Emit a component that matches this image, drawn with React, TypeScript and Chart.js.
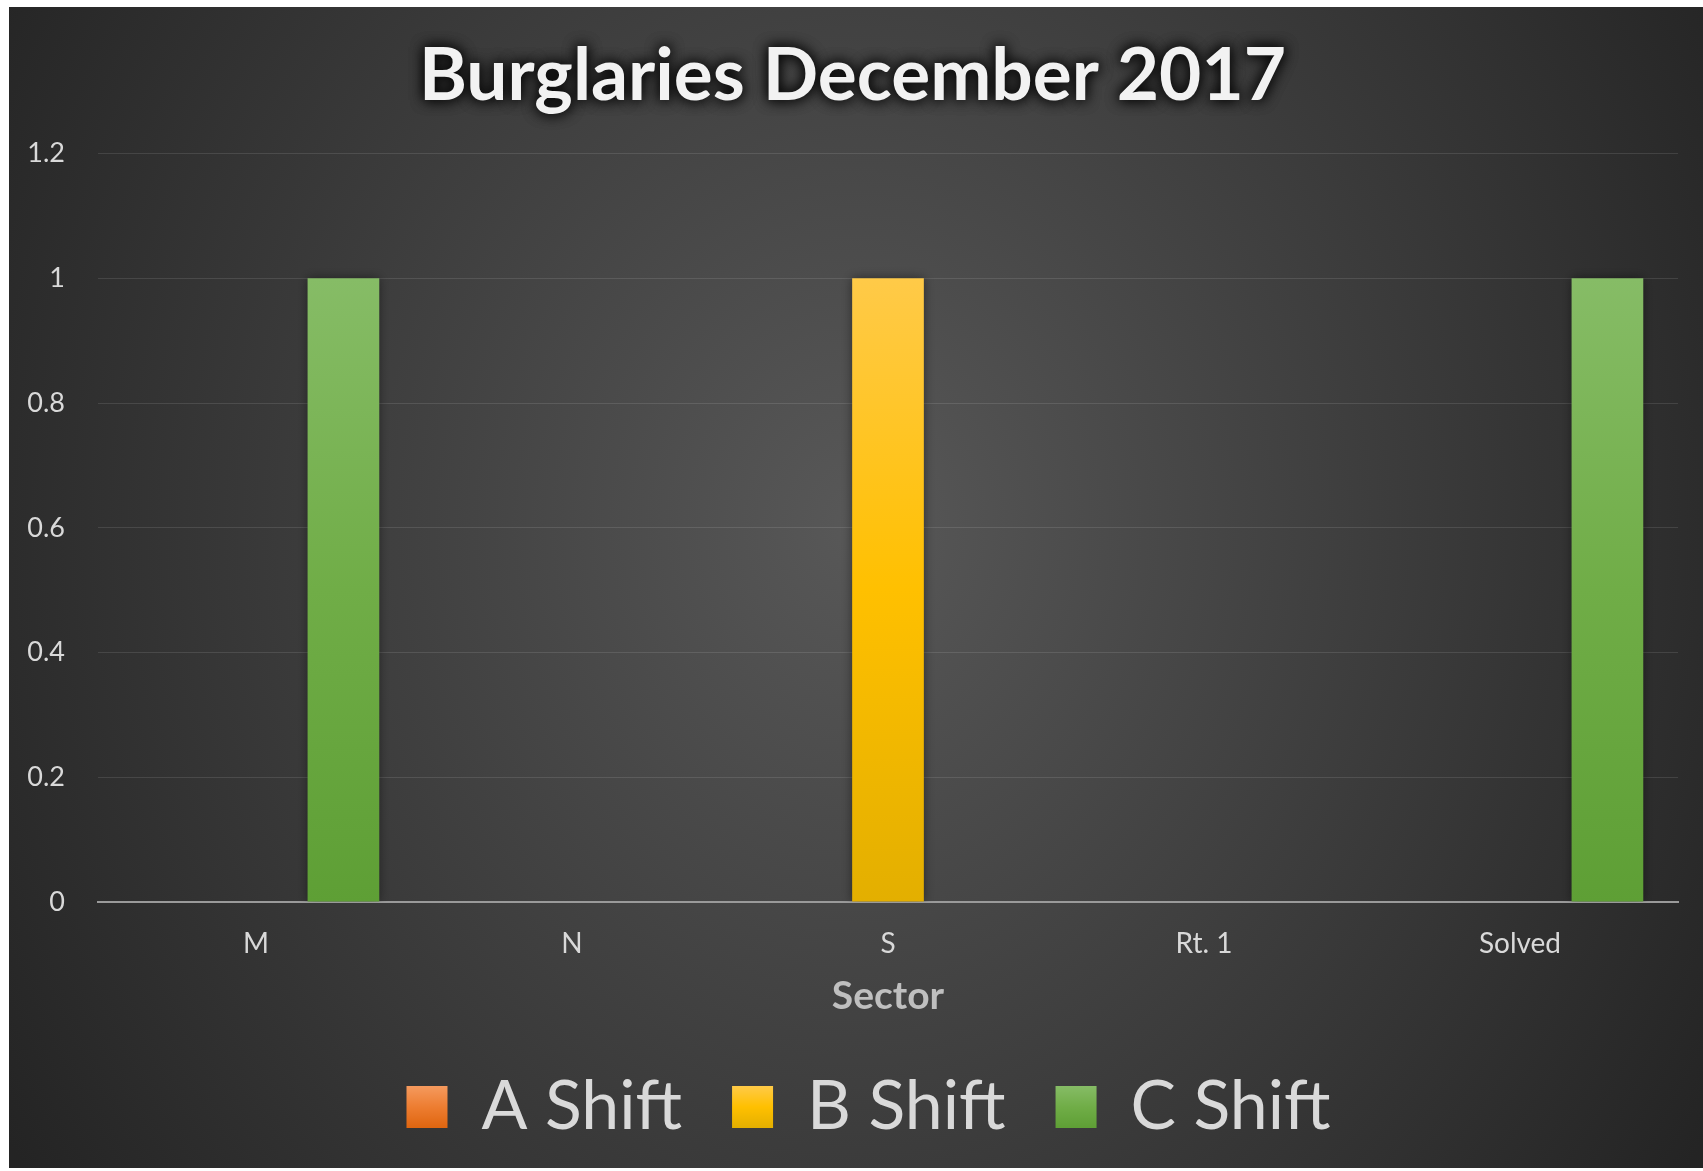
import { useEffect, useRef } from 'react';
import { Chart, registerables } from 'chart.js';

Chart.register(...registerables);

// ---- data ----
const categories = ['M', 'N', 'S', 'Rt. 1', 'Solved'];
const seriesNames = ['A Shift', 'B Shift', 'C Shift'];
const aShift = [0, 0, 0, 0, 0];
const bShift = [0, 0, 1, 0, 0];
const cShift = [1, 0, 0, 0, 1];
const yTickValues = [0, 0.2, 0.4, 0.6, 0.8, 1, 1.2];
const chartTitle = 'Burglaries December 2017';
const xAxisTitle = 'Sector';

// ---- styles ----
const W = 1694;
const H = 1161;
const FONT = 'Lato, "Open Sans", sans-serif';
const TITLE_FONT = { family: FONT, size: 73, weight: 'bold' as const, lineHeight: 1.2 };
const TITLE_PAD = { top: 26, bottom: 33 };
const LEGEND_FONT_SIZE = 68;
const LEGEND_PAD = 50;
const LEGEND_BOX_H = 42;
const LEGEND_SHIFT_X = 16;

const seriesStops = [
  ['#F59A5E', '#ED7D31', '#DF650F'],
  ['#FFCA48', '#FFC000', '#E3AF00'],
  ['#86BC66', '#70AD47', '#5E9F35'],
];

function barFill(stops: string[]) {
  return (c: any) => {
    const chart = c.chart;
    const area = chart.chartArea;
    if (!area || !chart.scales?.y) return stops[1];
    const ys = chart.scales.y;
    const v = typeof c.raw === 'number' && c.raw > 0 ? c.raw : 1;
    const top = ys.getPixelForValue(v);
    const bottom = ys.getPixelForValue(0);
    const g = chart.ctx.createLinearGradient(0, top, 0, bottom);
    g.addColorStop(0, stops[0]);
    g.addColorStop(0.5, stops[1]);
    g.addColorStop(1, stops[2]);
    return g;
  };
}

const backgroundPlugin = {
  id: 'bgAndTitleGlow',
  afterLayout(chart: any) {
    const lg = chart.legend;
    if (lg) {
      lg.left += LEGEND_SHIFT_X;
      lg.right += LEGEND_SHIFT_X;
    }
  },
  beforeDraw(chart: any) {
    const ctx = chart.ctx as CanvasRenderingContext2D;
    const { width, height } = chart;
    ctx.save();
    const cx = width * 0.5;
    const cy = height * 0.445;
    const sy = 1.164;
    ctx.translate(cx, cy);
    ctx.scale(1, sy);
    const g = ctx.createRadialGradient(0, 0, 0, 0, 0, 1000);
    g.addColorStop(0, '#585858');
    g.addColorStop(1, '#242424');
    ctx.fillStyle = g;
    ctx.fillRect(-cx, -cy / sy, width, height / sy);
    ctx.restore();

    // glow behind the title (title itself is drawn by Chart.js)
    const tb = chart.titleBlock;
    if (tb) {
      const x = (tb.left + tb.right) / 2;
      const y = tb.top + TITLE_PAD.top + (TITLE_FONT.size * TITLE_FONT.lineHeight) / 2;
      ctx.save();
      ctx.font = `bold ${TITLE_FONT.size}px ${FONT}`;
      ctx.textAlign = 'center';
      ctx.textBaseline = 'middle';
      ctx.fillStyle = 'rgba(0,0,0,0.9)';
      ctx.shadowColor = 'rgba(0,0,0,0.95)';
      ctx.shadowBlur = 14;
      ctx.fillText(chartTitle, x, y);
      ctx.fillText(chartTitle, x, y);
      ctx.restore();
    }

    // gradient fills for legend boxes
    const lg = chart.legend;
    if (lg && lg.legendItems) {
      const y0 = lg.top + LEGEND_PAD + Math.max((LEGEND_FONT_SIZE - LEGEND_BOX_H) / 2, 0);
      lg.legendItems.forEach((item: any, i: number) => {
        const st = seriesStops[i];
        const lgr = ctx.createLinearGradient(0, y0, 0, y0 + LEGEND_BOX_H);
        lgr.addColorStop(0, st[0]);
        lgr.addColorStop(0.5, st[1]);
        lgr.addColorStop(1, st[2]);
        item.fillStyle = lgr;
        item.lineWidth = 0;
      });
    }
  },
};

const barShadowPlugin = {
  id: 'barShadow',
  beforeDatasetsDraw(chart: any) {
    const ctx = chart.ctx;
    ctx.save();
    ctx.shadowColor = 'rgba(0,0,0,0.45)';
    ctx.shadowBlur = 10;
  },
  afterDatasetsDraw(chart: any) {
    chart.ctx.restore();
  },
};

export default function App() {
  const ref = useRef<HTMLCanvasElement | null>(null);

  useEffect(() => {
    if (!ref.current) return;
    const seriesData = [aShift, bShift, cShift];
    const chart = new Chart(ref.current, {
      type: 'bar',
      data: {
        labels: categories,
        datasets: seriesNames.map((name, i) => ({
          label: name,
          data: seriesData[i],
          backgroundColor: barFill(seriesStops[i]),
          borderWidth: 0,
          categoryPercentage: 0.83,
          barPercentage: 0.82,
        })),
      },
      options: {
        responsive: false,
        animation: false,
        events: [],
        layout: { padding: { left: 18, right: 25, top: 0, bottom: 17 } },
        scales: {
          x: {
            grid: { display: false, drawTicks: false },
            border: { display: true, color: '#9a9a9a', width: 2 },
            ticks: {
              color: '#d9d9d9',
              font: { family: FONT, size: 28 },
              padding: 25,
              maxRotation: 0,
            },
            title: {
              display: true,
              text: xAxisTitle,
              color: '#bfbfbf',
              font: { family: FONT, size: 39, weight: 'bold', lineHeight: 1.2 },
              padding: { top: 13, bottom: 3 },
            },
            afterFit: (scale: any) => {
              scale.height = 121;
            },
          },
          y: {
            min: yTickValues[0],
            max: yTickValues[yTickValues.length - 1],
            afterBuildTicks: (scale: any) => {
              scale.ticks = yTickValues.map((v) => ({ value: v }));
            },
            afterFit: (scale: any) => {
              scale.width = 71;
            },
            grid: { color: 'rgba(255,255,255,0.11)', lineWidth: 1, drawTicks: false },
            border: { display: false },
            ticks: {
              color: '#d9d9d9',
              font: { family: FONT, size: 27 },
              padding: 33,
              callback: (v: any) => String(Math.round(Number(v) * 10) / 10),
            },
          },
        },
        plugins: {
          title: {
            display: true,
            text: chartTitle,
            color: '#f2f2f2',
            font: TITLE_FONT,
            padding: TITLE_PAD,
          },
          legend: {
            position: 'bottom',
            labels: {
              color: '#d9d9d9',
              font: { family: FONT, size: LEGEND_FONT_SIZE },
              boxWidth: 41,
              boxHeight: LEGEND_BOX_H,
              padding: LEGEND_PAD,
            },
          },
          tooltip: { enabled: false },
        },
      },
      plugins: [backgroundPlugin, barShadowPlugin],
    } as any);
    return () => chart.destroy();
  }, []);

  return (
    <div style={{ position: 'absolute', left: 9, top: 7, width: W, height: H }}>
      <canvas ref={ref} width={W} height={H} style={{ display: 'block', width: W, height: H }} />
    </div>
  );
}
